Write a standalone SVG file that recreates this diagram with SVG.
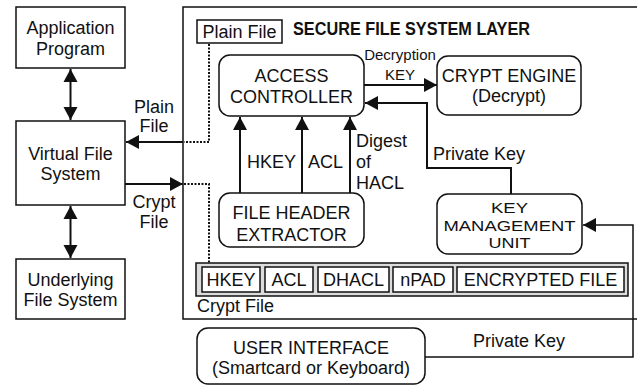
<svg xmlns="http://www.w3.org/2000/svg" width="637" height="386" viewBox="0 0 637 386">
<style>
text{font-family:"Liberation Sans",Arial,sans-serif;font-size:18px;fill:#111}
.c{text-anchor:middle}
.s{font-size:15px}
.box{fill:#fff;stroke:#111;stroke-width:1.5}
.ln{fill:none;stroke:#111;stroke-width:2}
.thin{fill:none;stroke:#111;stroke-width:1.5}
.dot{fill:none;stroke:#111;stroke-width:2;stroke-dasharray:2 1.5}
</style>
<defs>
<marker id="ah" markerUnits="userSpaceOnUse" markerWidth="16" markerHeight="16" refX="13" refY="7" orient="auto" overflow="visible">
<path d="M0,0 L13,7 L0,14 z" fill="#111"/>
</marker>
<marker id="ahs" markerUnits="userSpaceOnUse" markerWidth="16" markerHeight="16" refX="0" refY="7" orient="auto" overflow="visible">
<path d="M13,0 L0,7 L13,14 z" fill="#111"/>
</marker>
</defs>
<rect width="637" height="386" fill="#fff"/>

<g id="layer">
<path d="M640,7 H183 V319 H640" class="thin"/>
<text x="293" y="35" style="font-weight:bold;font-size:19px" textLength="237" lengthAdjust="spacingAndGlyphs">SECURE FILE SYSTEM LAYER</text>
</g>

<g id="app"><rect class="box" x="16" y="7" width="109" height="61"/>
<text class="c" x="70.5" y="34">Application</text><text class="c" x="70.5" y="55">Program</text></g>

<g id="vfs"><rect class="box" x="16" y="121" width="109" height="84"/>
<text class="c" x="70.5" y="160">Virtual File</text><text class="c" x="70.5" y="180">System</text></g>

<g id="ufs"><rect class="box" x="16" y="259" width="109" height="60"/>
<text class="c" x="70.5" y="286">Underlying</text><text class="c" x="70.5" y="306">File System</text></g>

<g id="plainfile"><rect class="box" x="197" y="20" width="85" height="23"/>
<text class="c" x="239.5" y="38">Plain File</text></g>

<g id="access"><rect class="box" x="219" y="55" width="145" height="61" rx="11"/>
<text class="c" x="291.5" y="82">ACCESS</text><text class="c" x="291.5" y="103">CONTROLLER</text></g>

<g id="crypt"><rect class="box" x="437" y="56" width="144" height="59" rx="11"/>
<text class="c" x="509" y="82">CRYPT ENGINE</text><text class="c" x="509" y="102">(Decrypt)</text></g>

<g id="fhe"><rect class="box" x="219" y="193" width="145" height="54" rx="11"/>
<text class="c" x="291.5" y="219">FILE HEADER</text><text class="c" x="291.5" y="241">EXTRACTOR</text></g>

<g id="kmu"><rect class="box" x="437" y="194" width="145" height="60" rx="11"/>
<text class="c s" x="509.5" y="213" textLength="37" lengthAdjust="spacingAndGlyphs">KEY</text>
<text class="c s" x="509.5" y="230.5" textLength="132" lengthAdjust="spacingAndGlyphs">MANAGEMENT</text>
<text class="c s" x="509.5" y="248" textLength="42" lengthAdjust="spacingAndGlyphs">UNIT</text></g>

<g id="cryptfile">
<rect x="196" y="263" width="432" height="33" fill="#dcdcdc" stroke="#111" stroke-width="1.5"/>
<rect class="box" x="202" y="267" width="58" height="25"/>
<rect class="box" x="265" y="267" width="48" height="25"/>
<rect class="box" x="318" y="267" width="71" height="25"/>
<rect class="box" x="393" y="267" width="60" height="25"/>
<rect class="box" x="457" y="267" width="167" height="25"/>
<text class="c" x="231" y="286">HKEY</text>
<text class="c" x="289" y="286">ACL</text>
<text class="c" x="353.5" y="286">DHACL</text>
<text class="c" x="423" y="286">nPAD</text>
<text class="c" x="540.5" y="286">ENCRYPTED FILE</text>
<text x="197" y="312">Crypt File</text>
</g>

<g id="ui"><rect class="box" x="197" y="328" width="228" height="56" rx="11"/>
<text class="c" x="311" y="354">USER INTERFACE</text><text class="c" x="311" y="374">(Smartcard or Keyboard)</text></g>

<g id="connectors">
<line class="ln" x1="70.5" y1="69" x2="70.5" y2="120" marker-start="url(#ahs)" marker-end="url(#ah)"/>
<line class="ln" x1="70.5" y1="206" x2="70.5" y2="258" marker-start="url(#ahs)" marker-end="url(#ah)"/>
<line class="ln" x1="183" y1="142" x2="126" y2="142" marker-end="url(#ah)"/>
<path class="dot" d="M209,44 V142 H184"/>
<line class="ln" x1="125" y1="184" x2="183" y2="184" marker-end="url(#ah)"/>
<path class="dot" d="M184,184 H209 V263"/>
<line class="ln" x1="240" y1="193" x2="240" y2="117" marker-end="url(#ah)"/>
<line class="ln" x1="302" y1="193" x2="302" y2="117" marker-end="url(#ah)"/>
<line class="ln" x1="350" y1="193" x2="350" y2="117" marker-end="url(#ah)"/>
<line class="ln" x1="364" y1="85" x2="437" y2="85" marker-end="url(#ah)"/>
<path class="ln" d="M511,194 V168 H427 V103 H365" marker-end="url(#ah)"/>
<path class="thin" d="M425,357 H633 V225 H583" marker-end="url(#ah)"/>
<text class="c" x="154" y="113">Plain</text><text class="c" x="154" y="132">File</text>
<text class="c" x="154" y="208">Crypt</text><text class="c" x="154" y="228">File</text>
<text x="247" y="168">HKEY</text>
<text x="308" y="168">ACL</text>
<text x="356" y="147">Digest</text><text x="356" y="168">of</text><text x="356" y="189">HACL</text>
<text class="c s" x="400" y="60">Decryption</text><text class="c s" x="400" y="80">KEY</text>
<text x="433" y="160">Private Key</text>
<text x="473" y="347">Private Key</text>
</g>
</svg>
